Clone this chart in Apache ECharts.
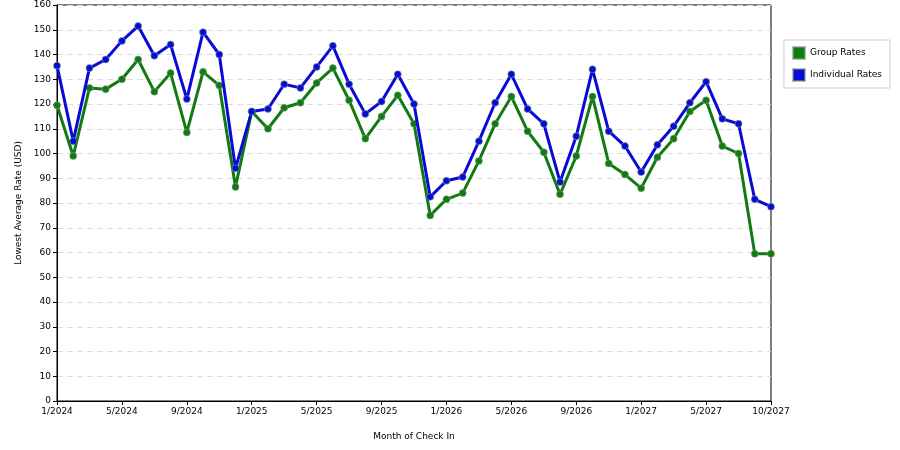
<!DOCTYPE html>
<html><head><meta charset="utf-8">
<script src="https://cdn.jsdelivr.net/npm/echarts@6/dist/echarts.min.js"></script>
<style>html,body{margin:0;background:#fff}#c{width:900px;height:450px}</style>
</head><body><div id="c"></div>
<script>
const months = ["1/2024","2/2024","3/2024","4/2024","5/2024","6/2024","7/2024","8/2024","9/2024","10/2024","11/2024","12/2024",
"1/2025","2/2025","3/2025","4/2025","5/2025","6/2025","7/2025","8/2025","9/2025","10/2025","11/2025","12/2025",
"1/2026","2/2026","3/2026","4/2026","5/2026","6/2026","7/2026","8/2026","9/2026","10/2026","11/2026","12/2026",
"1/2027","2/2027","3/2027","4/2027","5/2027","6/2027","7/2027","8/2027","10/2027"];
const groupRates = [119.5,99,126.5,126,130,138,125,132.5,108.5,133,127.5,86.5,
117,110,118.5,120.5,128.5,134.5,121.5,106,115,123.5,112,75,
81.5,84,97,112,123,109,100.5,83.5,99,123,96,91.5,
86,98.5,106,117,121.5,103,100,59.5,59.5];
const individualRates = [135.5,105,134.5,138,145.5,151.5,139.5,144,122,149,140,94,
117,118,128,126.5,135,143.5,128,116,121,132,120,82.5,
89,90.5,105,120.5,132,118,112,88.5,107,134,109,103,
92.5,103.5,111,120.5,129,114,112,81.5,78.5];
const yTicks = {min:0,max:160,interval:10};
const chart = echarts.init(document.getElementById('c'));
const F = 'DejaVu Sans';
function ser(name,data,color){return {name,type:'line',data,symbol:'circle',symbolSize:7,
 lineStyle:{color,width:3},itemStyle:{color,borderColor:'rgba(120,160,120,0.6)',borderWidth:1},z:name.startsWith('Ind')?3:2};}
chart.setOption({
 animation:false,
 grid:{left:57,right:129,top:5,bottom:49,show:true,borderColor:'#000',borderWidth:1},
 legend:{orient:'vertical',right:10,top:40,icon:'rect',itemWidth:12,itemHeight:12,itemGap:8,
  padding:[6,8,6,8],borderColor:'#ccc',borderWidth:1,textStyle:{fontFamily:F,fontSize:9,color:'#000'}},
 xAxis:{type:'category',boundaryGap:false,data:months,name:'Month of Check In',nameLocation:'middle',nameGap:31,
  nameTextStyle:{fontFamily:F,fontSize:9,color:'#000'},
  axisLine:{lineStyle:{color:'#000'}},axisTick:{interval:i=>i%4===0||i===months.length-1,length:4,lineStyle:{color:'#000'}},
  axisLabel:{interval:(i)=>i%4===0||i===months.length-1,fontFamily:F,fontSize:9,color:'#000',margin:6},splitLine:{show:false}},
 yAxis:{type:'value',min:yTicks.min,max:yTicks.max,interval:yTicks.interval,name:'Lowest Average Rate (USD)',nameLocation:'middle',nameGap:34,
  nameTextStyle:{fontFamily:F,fontSize:9,color:'#000'},
  axisLine:{show:true,lineStyle:{color:'#000'}},axisTick:{show:true,length:4,lineStyle:{color:'#000'}},
  axisLabel:{fontFamily:F,fontSize:9,color:'#000',margin:6},
  splitLine:{lineStyle:{color:'#ddd',type:[6,4]}}},
 series:[ser('Group Rates',groupRates,'#127a12'),ser('Individual Rates',individualRates,'#0a0ad8')]
});
</script></body></html>
